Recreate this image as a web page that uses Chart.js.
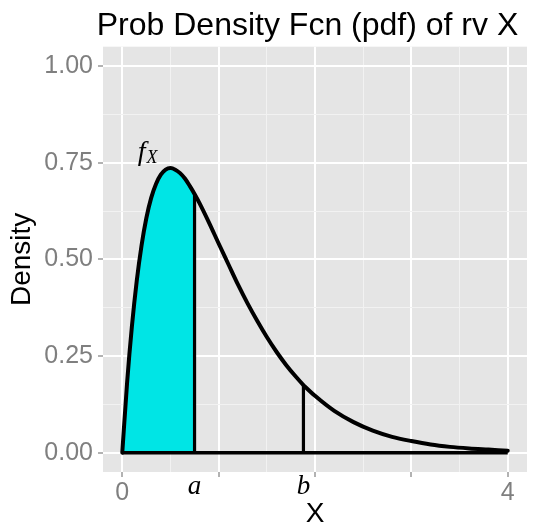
<!DOCTYPE html>
<html>
<head>
<meta charset="utf-8">
<script src="https://cdn.jsdelivr.net/npm/chart.js@4/dist/chart.umd.min.js"></script>
<style>
  html, body { margin: 0; padding: 0; background: #ffffff; }
  #wrap { width: 534px; height: 525px; }
</style>
</head>
<body>
<div id="wrap"><canvas id="c" width="534" height="525"></canvas></div>
<script>
// ---- data ----
const xValues = [0, 0.05, 0.1, 0.15, 0.2, 0.25, 0.3, 0.35, 0.4, 0.45, 0.5, 0.55, 0.6, 0.65, 0.7, 0.75,
  0.8, 0.9, 1.0, 1.1, 1.2, 1.3, 1.4, 1.5, 1.6, 1.7, 1.8, 1.88, 1.9, 2.0, 2.2, 2.4, 2.6, 2.8, 3.0,
  3.2, 3.4, 3.6, 3.8, 4.0];
const densityValues = [0, 0.181, 0.327, 0.444, 0.536, 0.607, 0.659, 0.695, 0.719, 0.732, 0.736, 0.732,
  0.723, 0.709, 0.690, 0.669, 0.646, 0.595, 0.541, 0.488, 0.435, 0.386, 0.341, 0.299, 0.261, 0.227,
  0.197, 0.175, 0.170, 0.147, 0.108, 0.079, 0.057, 0.041, 0.030, 0.021, 0.015, 0.011, 0.008, 0.005];
const aValue = 0.75;
const bValue = 1.88;
const fAtA = 0.669;
const fAtB = 0.175;
const xMajorBreaks = [0, 1, 2, 3, 4];
const xMinorBreaks = [0.5, 1.5, 2.5, 3.5];
const xTickLabels = { '0': '0', '4': '4' };
const boundLabels = [{ value: aValue, text: 'a' }, { value: bValue, text: 'b' }];
const yMajorBreaks = [0, 0.25, 0.5, 0.75, 1];
const yMinorBreaks = [0.125, 0.375, 0.625, 0.875];
const curveLabel = { text: 'f', sub: 'X', x: 0.16, y: 0.757 };
const titleText = 'Prob Density Fcn (pdf) of rv X';

// ---- build datasets ----
const curvePts = xValues.map((x, i) => ({ x: x, y: densityValues[i] }));
const shadePts = curvePts.filter(p => p.x <= aValue);

const panelBg = {
  id: 'panelBg',
  beforeDraw(chart) {
    const { ctx, chartArea: ca } = chart;
    ctx.save();
    ctx.fillStyle = '#ffffff';
    ctx.fillRect(0, 0, chart.width, chart.height);
    ctx.fillStyle = '#E5E5E5';
    ctx.fillRect(ca.left, ca.top, ca.right - ca.left, ca.bottom - ca.top);
    ctx.restore();
  }
};

const titleDraw = {
  id: 'titleDraw',
  afterDraw(chart) {
    const { ctx, chartArea: ca } = chart;
    ctx.save();
    ctx.fillStyle = '#000000';
    ctx.font = '32px "Liberation Sans"';
    ctx.textAlign = 'center';
    ctx.textBaseline = 'alphabetic';
    ctx.fillText(titleText, (ca.left + ca.right) / 2 - 7.5, 35);
    ctx.restore();
  }
};

const boundLabelDraw = {
  id: 'boundLabelDraw',
  afterDraw(chart) {
    const { ctx, chartArea: ca, scales } = chart;
    ctx.save();
    ctx.fillStyle = '#000000';
    ctx.font = 'italic 27px "Liberation Serif"';
    ctx.textAlign = 'center';
    ctx.textBaseline = 'alphabetic';
    boundLabels.forEach(l => {
      ctx.fillText(l.text, scales.x.getPixelForValue(l.value), ca.bottom + 22);
    });
    ctx.restore();
  }
};

const fxLabel = {
  id: 'fxLabel',
  afterDatasetsDraw(chart) {
    const { ctx, scales } = chart;
    const px = scales.x.getPixelForValue(curveLabel.x);
    const py = scales.y.getPixelForValue(curveLabel.y);
    ctx.save();
    ctx.fillStyle = '#000000';
    ctx.textBaseline = 'alphabetic';
    ctx.textAlign = 'left';
    ctx.font = 'italic 28px "Liberation Serif"';
    ctx.fillText(curveLabel.text, px, py);
    const w = ctx.measureText(curveLabel.text).width;
    ctx.font = 'italic 18px "Liberation Serif"';
    ctx.fillText(curveLabel.sub, px + w + 1, py + 3);
    ctx.restore();
  }
};

const isMajorX = v => xMajorBreaks.some(b => Math.abs(b - v) < 1e-9);
const isMinorX = v => xMinorBreaks.some(b => Math.abs(b - v) < 1e-9);
const isMajorY = v => yMajorBreaks.some(b => Math.abs(b - v) < 1e-9);

new Chart(document.getElementById('c'), {
  type: 'scatter',
  data: {
    datasets: [
      { // shaded area 0..a
        data: shadePts, showLine: true, fill: 'origin',
        backgroundColor: '#00E5E5', borderWidth: 0, pointRadius: 0,
        cubicInterpolationMode: 'monotone', order: 10
      },
      { // baseline
        data: [{ x: 0, y: 0 }, { x: 4, y: 0 }], showLine: true, fill: false,
        borderColor: '#000000', borderWidth: 3.5, pointRadius: 0, order: 3
      },
      { // line at a
        data: [{ x: aValue, y: 0 }, { x: aValue, y: fAtA }], showLine: true, fill: false,
        borderColor: '#000000', borderWidth: 3.2, pointRadius: 0, order: 2
      },
      { // line at b
        data: [{ x: bValue, y: 0 }, { x: bValue, y: fAtB }], showLine: true, fill: false,
        borderColor: '#000000', borderWidth: 3.2, pointRadius: 0, order: 2
      },
      { // density curve
        data: curvePts, showLine: true, fill: false,
        borderColor: '#000000', borderWidth: 4, pointRadius: 0,
        cubicInterpolationMode: 'monotone', borderCapStyle: 'round', borderJoinStyle: 'round', order: 1
      }
    ]
  },
  options: {
    responsive: false,
    animation: false,
    events: [],
    layout: { padding: { left: 0, right: 7, top: 46.7, bottom: 0 } },
    plugins: {
      legend: { display: false },
      tooltip: { enabled: false },
      title: { display: false }
    },
    scales: {
      x: {
        type: 'linear', min: -0.2, max: 4.2,
        afterBuildTicks(scale) {
          const vals = [...xMajorBreaks, ...xMinorBreaks].sort((p, q) => p - q);
          scale.ticks = vals.map(v => ({ value: v }));
        },
        afterFit(scale) { scale.height = 53; },
        border: { display: false },
        grid: {
          drawTicks: true, tickLength: 5,
          color: ctx => isMajorX(ctx.tick.value) ? '#FFFFFF' : (isMinorX(ctx.tick.value) ? '#F2F2F2' : 'rgba(0,0,0,0)'),
          lineWidth: ctx => isMajorX(ctx.tick.value) ? 2 : 1,
          tickColor: ctx => isMajorX(ctx.tick.value) ? '#7F7F7F' : 'rgba(0,0,0,0)',
          tickWidth: 1.2
        },
        ticks: {
          autoSkip: false, maxRotation: 0, padding: 1, color: '#7F7F7F',
          callback: v => xTickLabels[String(v)] || '',
          font: { family: '"Liberation Sans"', size: 25 }
        },
        title: {
          display: true, text: 'X', color: '#000000',
          font: { family: '"Liberation Sans"', size: 28, lineHeight: 1 },
          padding: { top: 0, bottom: -3 }
        }
      },
      y: {
        type: 'linear', min: -0.05, max: 1.05,
        afterBuildTicks(scale) {
          const vals = [...yMajorBreaks, ...yMinorBreaks].sort((p, q) => p - q);
          scale.ticks = vals.map(v => ({ value: v }));
        },
        afterFit(scale) { scale.width = 103; },
        border: { display: false },
        grid: {
          drawTicks: true, tickLength: 5,
          color: ctx => isMajorY(ctx.tick.value) ? '#FFFFFF' : '#F2F2F2',
          lineWidth: ctx => isMajorY(ctx.tick.value) ? 2 : 1,
          tickColor: ctx => isMajorY(ctx.tick.value) ? '#7F7F7F' : 'rgba(0,0,0,0)',
          tickWidth: 1.2
        },
        ticks: {
          autoSkip: false, padding: 5, color: '#7F7F7F',
          font: { family: '"Liberation Sans"', size: 25 },
          callback: v => isMajorY(v) ? v.toFixed(2) : ''
        },
        title: {
          display: true, text: 'Density', color: '#000000',
          font: { family: '"Liberation Sans"', size: 28, lineHeight: 1 },
          padding: { top: 8, bottom: 0 }
        }
      }
    }
  },
  plugins: [panelBg, fxLabel, boundLabelDraw, titleDraw]
});
</script>
</body>
</html>
